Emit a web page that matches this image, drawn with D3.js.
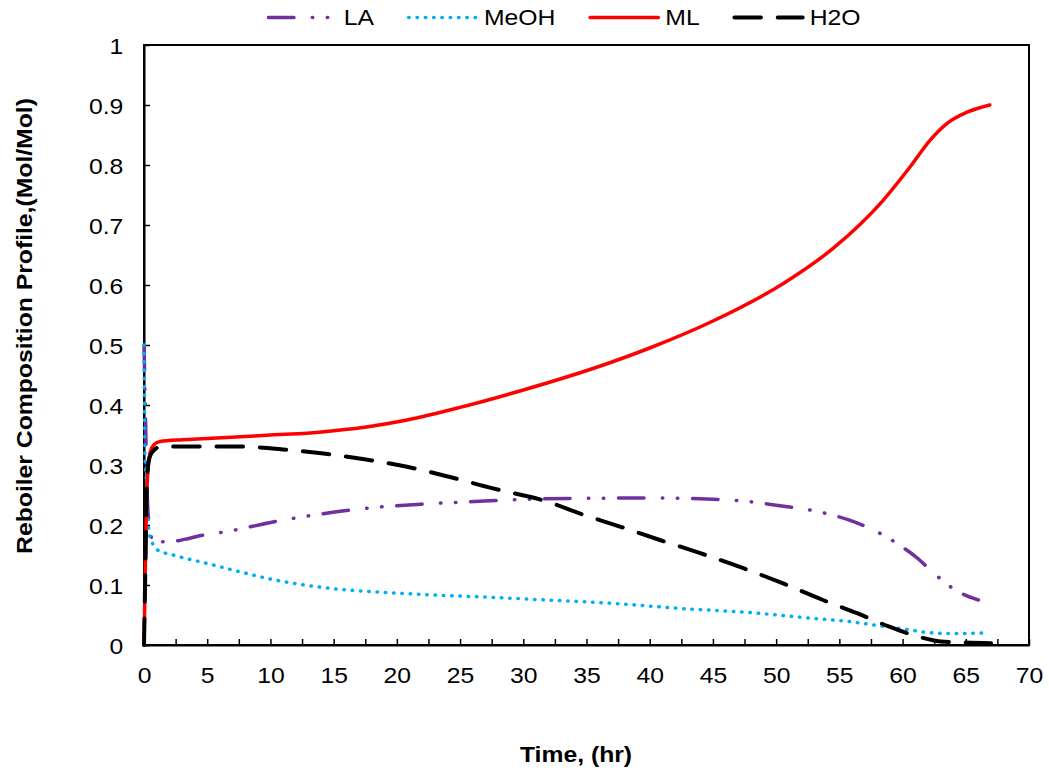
<!DOCTYPE html>
<html>
<head>
<meta charset="utf-8">
<script src="https://cdn.jsdelivr.net/npm/d3@7"></script>
<style>
body { margin: 0; background: #fff; }
svg text { font-family: "Liberation Sans", Arial, sans-serif; fill: #000; }
</style>
</head>
<body>
<svg id="chart" width="1049" height="771"></svg>
<script>
// values, [time hr, mol fraction]
var laData = [[0,0.5],[0.1,0.4],[0.25,0.25],[0.45,0.195],[0.75,0.172],[2,0.172],[3.2,0.176],[4.4,0.182],[6.8,0.19],[10.2,0.205],
  [13.9,0.218],[17.6,0.228],[22.1,0.235],[26.1,0.239],[30.5,0.243],[34.5,0.2445],[40.3,0.245],[45,0.243],[47.4,0.24],
  [50,0.233],[52.9,0.224],[55.8,0.208],[58.9,0.178],[60,0.163],[61.1,0.146],[62.2,0.125],[63.8,0.097],[64.8,0.0845],[66,0.075]];
var meohData = [[0,0.5],[0.08,0.314],[0.2,0.27],[0.35,0.2],[0.47,0.18],[0.74,0.167],[1.1,0.158],[2.3,0.15],[4.96,0.136],
  [7.6,0.122],[10.2,0.109],[12.9,0.0994],[15.5,0.0928],[18.1,0.0889],[20.8,0.0856],[23.4,0.0828],[26.1,0.0806],[31.9,0.075],
  [37.1,0.0694],[42.4,0.061],[47.7,0.0544],[52.9,0.0444],[55.8,0.039],[58.5,0.031],[60.3,0.026],[61.9,0.021],[63.8,0.019],[66.6,0.02]];
var mlData = [[0,0],[0.1,0.12],[0.2,0.24],[0.35,0.3],[0.5,0.322],[0.8,0.334],[1.27,0.339],[3,0.342],[5,0.344],[7.6,0.347],
  [10,0.35],[12.9,0.353],[15,0.357],[18.1,0.365],[20.8,0.375],[25,0.396],[30,0.425],[36.1,0.465],[40,0.495],[45,0.54],
  [50.6,0.603],[54.5,0.661],[58.5,0.742],[60.6,0.797],[62.2,0.842],[63.5,0.869],[65.1,0.888],[66.9,0.9]];
var h2oData = [[0,0],[0.1,0.12],[0.2,0.24],[0.34,0.303],[0.6,0.32],[1.27,0.33],[3,0.331],[7,0.331],[11,0.326],[14.2,0.319],
  [17.3,0.31],[20.8,0.297],[24.2,0.28],[27.6,0.261],[31.9,0.239],[34.5,0.219],[37.7,0.197],[40.8,0.175],[44,0.153],
  [47.4,0.128],[50.5,0.103],[53.7,0.075],[56.4,0.053],[58.9,0.031],[61.4,0.013],[63,0.006],[65,0.004],[67,0.003]];

var seriesNames = ["LA", "MeOH", "ML", "H2O"];
var xTicks = [0,2.5,5,7.5,10,12.5,15,17.5,20,22.5,25,27.5,30,32.5,35,37.5,40,42.5,45,47.5,50,52.5,55,57.5,60,62.5,65,67.5,70];
var yTicks = [0,0.1,0.2,0.3,0.4,0.5,0.6,0.7,0.8,0.9,1];

var sx = 1.15; // text in the picture is drawn a bit wide
var fs = 21.5;

var svg = d3.select("#chart");
var x = d3.scaleLinear().domain([0, 70]).range([144, 1029]);
var y = d3.scaleLinear().domain([0, 1]).range([645, 45]);

var styles = [
  {data: laData, color: "#7030A0", dash: "25.5,18.3,0.5,14.5,0.5,14.7", w: 3.5},
  {data: meohData, color: "#00B0F0", dash: "0.5,7.8", w: 3.5},
  {data: mlData, color: "#FF0000", dash: null, w: 3.5},
  {data: h2oData, color: "#000000", dash: "26.5,16.8", w: 4}
];

// frame
svg.append("rect")
  .attr("x", x(0)).attr("y", y(1))
  .attr("width", x(70) - x(0)).attr("height", y(0) - y(1))
  .attr("fill", "none").attr("stroke", "#000").attr("stroke-width", 2);

// axes
var xAxis = svg.append("g").attr("transform", "translate(0," + y(0) + ")")
  .call(d3.axisBottom(x).tickValues(xTicks).tickSizeInner(-6).tickSizeOuter(0)
    .tickFormat(function(d) { return d % 5 == 0 ? d : ""; }));
xAxis.select(".domain").attr("stroke-width", 2);
xAxis.selectAll(".tick line").attr("stroke-width", 1.5);
xAxis.selectAll(".tick text")
  .attr("y", null).attr("dy", null)
  .attr("font-size", fs)
  .attr("transform", "translate(0,38) scale(" + sx + ",1)");

var yAxis = svg.append("g").attr("transform", "translate(" + x(0) + ",0)")
  .call(d3.axisLeft(y).tickValues(yTicks).tickSizeInner(-6).tickSizeOuter(0)
    .tickFormat(function(d) { return String(d); }));
yAxis.select(".domain").attr("stroke-width", 2);
yAxis.selectAll(".tick line").attr("stroke-width", 1.5);
yAxis.selectAll(".tick text")
  .attr("x", null).attr("dy", "0.4em")
  .attr("font-size", fs)
  .attr("transform", "translate(-20.7,0) scale(" + sx + ",1)");

// lines
var line = d3.line()
  .x(function(d) { return x(d[0]); })
  .y(function(d) { return y(d[1]); })
  .curve(d3.curveMonotoneX);

styles.forEach(function(s) {
  svg.append("path")
    .datum(s.data)
    .attr("d", line)
    .attr("fill", "none")
    .attr("stroke", s.color)
    .attr("stroke-width", s.w)
    .attr("stroke-linecap", "round")
    .attr("stroke-linejoin", "round")
    .attr("stroke-dasharray", s.dash);
});

// legend
var lx = 266.7, ly = 17.5;
seriesNames.forEach(function(name, i) {
  var s = styles[i];
  svg.append("line")
    .attr("x1", lx + 1.75).attr("x2", lx + 70).attr("y1", ly).attr("y2", ly)
    .attr("stroke", s.color).attr("stroke-width", s.w)
    .attr("stroke-linecap", "round")
    .attr("stroke-dasharray", s.dash);
  var t = svg.append("text")
    .attr("font-size", fs)
    .attr("transform", "translate(" + (lx + 77) + "," + (ly + 7.8) + ") scale(" + sx + ",1)")
    .text(name);
  lx += 77 + t.node().getComputedTextLength() * sx + 33;
});

// axis titles
svg.append("text")
  .attr("font-size", fs).attr("font-weight", "bold")
  .attr("text-anchor", "middle")
  .attr("transform", "translate(576,762) scale(" + sx + ",1)")
  .text("Time, (hr)");

svg.append("text")
  .attr("font-size", fs).attr("font-weight", "bold")
  .attr("text-anchor", "middle")
  .attr("transform", "translate(32,326) rotate(-90) scale(" + sx + ",1)")
  .text("Reboiler Composition Profile,(Mol/Mol)");
</script>
</body>
</html>
